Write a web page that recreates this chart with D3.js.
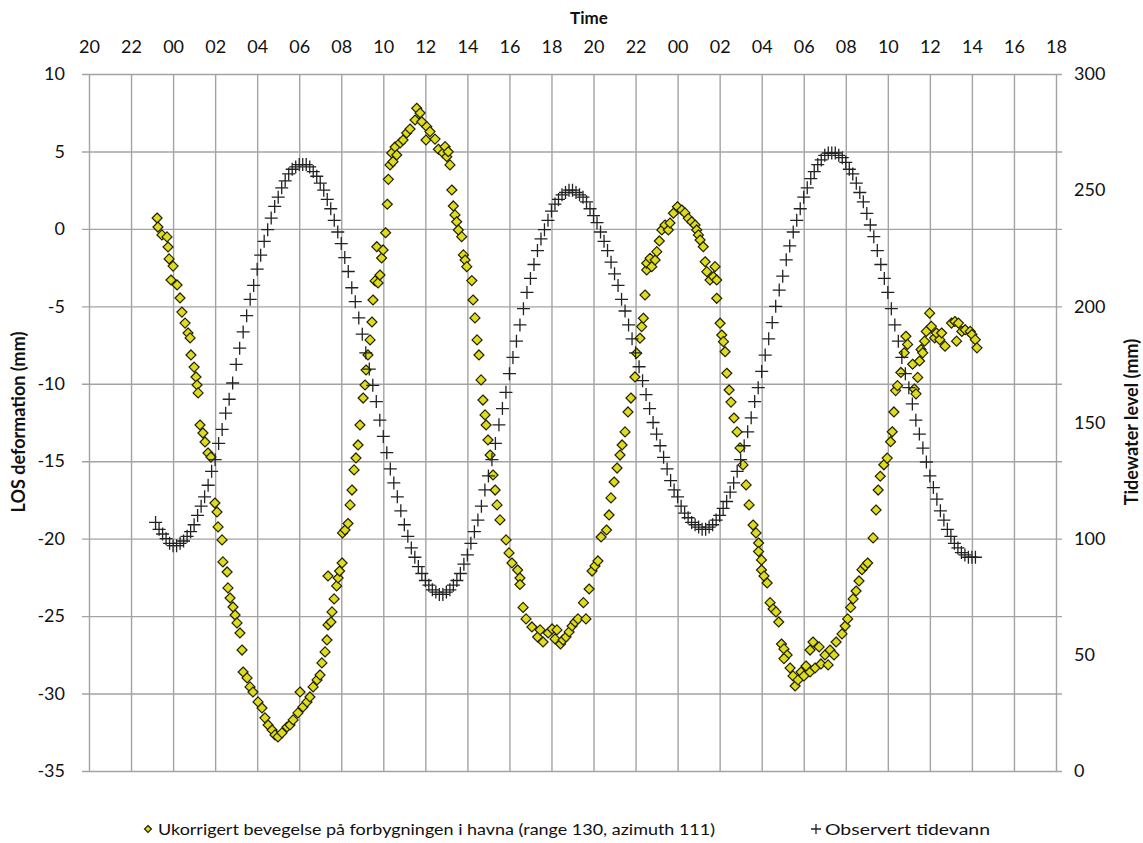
<!DOCTYPE html>
<html><head><meta charset="utf-8">
<script src="https://cdn.jsdelivr.net/npm/d3@7"></script>
<style>
html,body{margin:0;padding:0;background:#fff;}
svg{display:block;font-family:Lato,"Open Sans",sans-serif;}
</style></head><body>
<svg id="chart" width="1143" height="843"></svg>
<script>
// ---------- DATA ----------
// time axis: hours counted from 20:00 on the first day
const timeTickHours = [0,2,4,6,8,10,12,14,16,18,20,22,24,26,28,30,32,34,36,38,40,42,44,46];
const timeTickLabels = ["20","22","00","02","04","06","08","10","12","14","16","18","20","22","00","02","04","06","08","10","12","14","16","18"];
const losTicks = [10,5,0,-5,-10,-15,-20,-25,-30,-35];
const tideTicks = [300,250,200,150,100,50,0];

// observed tide (mm), one reading every 10 minutes starting 23:10 (hour 3 + 10 min)
const tideStartHour = 3 + 10/60;
const tideStepHours = 10/60;
const tideValues = [
 107,104,102,100,98,97,
 97,98,99,101,103,106,110,114,118,123,129,134,141,147,154,160,167,175,182,189,196,203,209,216,222,228,233,238,243,247,251,254,257,259,260,261,261,
 261,260,258,256,253,250,246,242,237,232,227,221,215,208,202,195,188,180,173,166,159,151,144,137,130,124,118,112,106,101,96,92,88,85,82,80,78,77,76,
 76,77,78,80,82,85,89,93,98,103,108,114,121,127,134,141,149,156,163,171,178,185,192,199,206,212,218,224,229,233,237,241,244,246,248,249,250,
 250,249,248,247,245,242,239,236,232,228,224,219,214,209,203,198,192,186,180,174,168,162,156,150,145,140,135,130,125,121,118,114,111,109,107,106,105,104,
 104,105,106,108,110,113,116,120,124,129,134,140,146,152,159,165,172,179,186,193,200,207,213,220,226,232,237,242,247,251,255,258,261,263,265,266,266,
 266,265,264,262,259,257,253,249,245,240,235,230,224,218,212,206,199,192,185,178,171,165,158,151,145,139,133,127,122,117,112,108,104,101,98,96,94,93,92,92,92
];

// uncorrected LOS movement: [hour since 20:00 day 1, mm]
const losPoints = [
 [3.24,0.70],[3.28,0.12],[3.47,-0.39],[3.71,-0.52],[3.76,-1.17],[3.81,-1.94],[3.90,-3.30],[4.00,-2.40],[4.19,-3.62],[4.33,-4.46],[4.42,-5.37],[4.57,-6.08],[4.71,-6.72],[4.81,-7.04],[4.85,-8.14],[5.00,-8.92],[5.09,-9.56],[5.14,-10.08],[5.19,-10.59],[5.28,-12.66],[5.42,-13.18],[5.52,-13.76],[5.66,-14.47],[5.80,-14.73],[5.99,-17.70],[6.09,-18.28],[6.14,-19.24],[6.33,-20.08],[6.37,-21.50],[6.57,-22.15],[6.61,-23.18],[6.71,-23.83],[6.85,-24.41],[6.95,-24.93],[7.04,-25.44],[7.18,-26.09],[7.28,-27.19],[7.33,-28.61],[7.52,-28.99],[7.66,-29.57],[7.80,-29.90],[8.04,-30.54],[8.23,-30.93],[8.37,-31.57],[8.52,-32.03],[8.71,-32.35],[8.85,-32.67],[8.99,-32.80],[9.18,-32.54],[9.42,-32.16],[9.56,-32.03],[9.71,-31.70],[9.94,-31.25],[10.04,-29.90],[10.18,-30.86],[10.37,-30.54],[10.51,-30.22],[10.66,-29.57],[10.85,-29.12],[10.99,-28.80],[11.08,-28.02],[11.23,-27.31],[11.32,-26.54],[11.37,-25.57],
 [11.51,-25.38],[11.56,-24.73],[11.66,-23.89],[11.37,-22.41],[11.78,-23.05],[11.85,-22.54],[11.92,-22.09],[12.04,-21.57],[12.06,-19.63],[12.18,-19.44],[12.32,-19.02],[12.42,-17.82],[12.51,-16.86],[12.61,-15.56],[12.70,-14.79],[12.80,-13.95],[12.89,-12.66],[13.04,-10.92],[13.13,-10.08],[13.18,-9.11],[13.27,-8.14],[13.37,-7.17],[13.46,-6.01],[13.51,-4.59],[13.61,-3.36],[13.69,-1.15],[13.75,-3.49],[13.84,-2.98],[13.92,-1.88],[13.99,-1.36],[14.11,-0.25],[14.19,1.59],[14.24,3.20],[14.32,4.13],[14.40,4.90],[14.46,4.34],[14.56,5.29],[14.64,4.77],[14.80,5.55],[14.94,5.74],[15.11,6.19],[15.27,6.45],[15.51,7.03],[15.59,7.79],[15.75,7.48],[15.83,6.92],
 [16.07,6.60],[16.03,5.74],[16.22,6.28],[16.46,5.80],[16.62,5.14],[16.84,4.90],[16.94,5.31],[17.02,4.66],[17.09,4.98],[17.17,4.13],[17.26,2.51],[17.33,1.48],[17.41,0.90],[17.49,0.46],[17.57,-0.07],[17.73,-0.50],[17.81,-1.68],[17.89,-2.01],[17.97,-2.44],[18.21,-3.34],[18.27,-4.59],[18.36,-5.75],[18.46,-7.17],[18.55,-8.14],[18.65,-9.75],[18.74,-11.05],[18.84,-12.01],[18.89,-12.66],[18.98,-13.63],[19.08,-14.60],[19.22,-15.89],[19.32,-16.86],[19.41,-17.82],[19.55,-18.79],[19.84,-20.08],[19.98,-20.92],[20.12,-21.57],[20.39,-22.02],[20.50,-22.54],[20.50,-22.96],[20.65,-24.44],[20.79,-25.18],[21.07,-25.70],[21.34,-26.35],[21.46,-25.89],[21.60,-26.67],[21.84,-26.09],[22.03,-25.83],[22.17,-26.47],[22.26,-25.89],[22.43,-26.80],[22.55,-26.54],[22.69,-26.35],[22.84,-26.02],[22.98,-25.64],[23.12,-25.38],[23.26,-25.18],[23.52,-24.13],[23.64,-25.18],[23.79,-23.25],[23.93,-22.09],[24.07,-21.76],[24.21,-21.44],[24.36,-19.89],[24.62,-19.44],
 [24.74,-18.47],[24.83,-17.37],[24.98,-16.34],[25.12,-15.44],[25.26,-14.60],[25.36,-13.95],[25.50,-13.11],[25.64,-11.82],[25.78,-10.92],[25.97,-9.56],[26.05,-8.03],[26.21,-7.06],[26.29,-6.31],[26.37,-5.77],[26.45,-4.27],[26.53,-2.65],[26.53,-2.22],[26.69,-1.90],[26.77,-2.44],[26.93,-2.01],[27.01,-1.47],[27.13,-0.78],[27.25,-0.07],[27.40,0.25],[27.56,-0.07],[27.64,0.38],[27.80,1.01],[27.99,1.43],
 [28.20,1.22],[28.35,1.03],[28.51,0.68],[28.67,0.46],[28.83,0.25],[28.91,-0.07],[28.99,-0.39],[29.07,-0.72],[29.22,-1.15],[29.31,-2.12],[29.39,-2.76],[29.54,-3.30],[29.70,-3.09],[29.78,-2.44],[29.86,-3.30],[29.86,-4.48],[30.02,-6.09],[30.10,-6.85],[30.18,-7.28],[30.26,-7.93],[30.34,-9.32],[30.45,-10.40],[30.54,-11.18],[30.68,-12.21],[30.83,-13.11],[30.97,-14.14],[31.11,-15.24],[31.26,-16.53],[31.40,-17.82],[31.59,-19.12],[31.73,-19.63],[31.85,-20.28],[31.85,-20.83],[31.99,-21.37],[31.99,-22.02],[32.11,-22.41],[32.26,-22.86],[32.40,-24.13],[32.54,-24.54],[32.68,-24.73],[32.81,-25.38],[32.94,-26.80],[33.06,-27.12],[33.21,-27.51],[33.06,-27.74],[33.35,-28.35],[33.49,-28.86],[33.59,-29.51],[33.73,-29.12],[33.87,-28.61],[34.01,-28.86],[34.11,-28.22],[34.30,-27.19],[34.30,-28.61],[34.44,-26.67],[34.54,-28.35],[34.73,-26.99],[34.82,-28.09],[35.01,-27.51],[35.16,-28.15],[35.25,-27.19],[35.44,-27.51],[35.54,-26.67],
 [35.82,-26.15],[35.97,-25.64],[36.09,-25.18],[36.23,-24.44],[36.35,-23.89],[36.49,-23.38],[36.63,-22.73],[36.77,-22.00],[36.92,-21.76],[37.04,-21.57],[37.30,-19.95],[37.44,-18.15],[37.54,-16.86],[37.64,-15.97],[37.81,-15.23],[37.97,-14.80],[38.13,-13.74],[38.21,-13.10],[38.29,-11.82],[38.37,-10.44],[38.46,-10.12],[38.62,-9.27],[38.78,-8.00],[38.86,-6.93],[38.94,-7.46],[39.18,-8.74],[39.26,-10.34],[39.34,-10.65],[39.42,-9.59],[39.51,-8.53],[39.58,-7.79],[39.66,-8.00],[39.75,-7.25],[39.83,-6.62],[39.99,-5.44],[40.07,-6.29],[40.23,-7.04],[40.31,-6.72],[40.47,-7.15],[40.56,-6.72],[40.72,-7.57],[41.03,-6.08],[41.19,-5.98],[41.27,-7.25],[41.36,-6.08],[41.52,-6.62],[41.68,-6.51],[41.92,-6.62],[42.00,-6.82],[42.16,-7.15],[42.24,-7.68]
];

const seriesNames = ["Ukorrigert bevegelse på forbygningen i havna (range 130, azimuth 111)", "Observert tidevann"];
const titles = {time:"Time", left:"LOS deformation (mm)", right:"Tidewater level (mm)"};

// ---------- CHART ----------
const svg = d3.select("#chart");
const plot = {left:89, right:1056, top:74, bottom:771};
const x = d3.scaleLinear().domain([0,46]).range([plot.left, plot.right]);
const yL = d3.scaleLinear().domain([-35,10]).range([plot.bottom, plot.top]);
const yR = d3.scaleLinear().domain([0,300]).range([plot.bottom, plot.top]);
const gridColor = "#a3a3a3";
const plainNum = d => String(d);   // hyphen-minus like the original

// vertical gridlines
const gx = svg.append("g").attr("transform",`translate(0,${plot.bottom})`)
  .call(d3.axisBottom(x).tickValues(timeTickHours).tickSize(-(plot.bottom-plot.top)).tickFormat(""));
gx.select(".domain").remove();
gx.selectAll("line").attr("stroke",gridColor).attr("stroke-width",1.4);

// horizontal gridlines (extend slightly outside the plot)
const gy = svg.append("g").attr("transform",`translate(${plot.left-7},0)`)
  .call(d3.axisLeft(yL).tickValues(losTicks).tickSize(-(plot.right-plot.left+13)).tickFormat(""));
gy.select(".domain").remove();
gy.selectAll("line").attr("stroke",gridColor).attr("stroke-width",1.4);

// tick labels
const fontTick = 18;
const topAxis = svg.append("g").attr("transform",`translate(0,${plot.top})`)
  .call(d3.axisTop(x).tickValues(timeTickHours).tickSize(0).tickPadding(21).tickFormat((d,i)=>timeTickLabels[i]));
const leftAxis = svg.append("g").attr("transform",`translate(${plot.left},0)`)
  .call(d3.axisLeft(yL).tickValues(losTicks).tickSize(0).tickPadding(24).tickFormat(plainNum));
const rightAxis = svg.append("g").attr("transform",`translate(${plot.right},0)`)
  .call(d3.axisRight(yR).tickValues(tideTicks).tickSize(0).tickPadding(18).tickFormat(plainNum));
[topAxis,leftAxis,rightAxis].forEach(a=>{
  a.select(".domain").remove();
  a.selectAll("text").attr("font-family","Lato,'Open Sans',sans-serif").attr("font-size",fontTick).attr("fill","#111");
});

// titles
svg.append("text").attr("x",589).attr("y",24).attr("text-anchor","middle")
  .attr("font-weight","bold").attr("font-size",17).attr("fill","#111").text(titles.time);
svg.append("text").attr("transform","translate(25,422) rotate(-90)").attr("text-anchor","middle")
  .attr("font-weight","bold").attr("font-size",18).attr("fill","#111").text(titles.left);
svg.append("text").attr("transform","translate(1138,422) rotate(-90)").attr("text-anchor","middle")
  .attr("font-weight","bold").attr("font-size",18).attr("fill","#111").text(titles.right);

// diamond + cross symbols
const diamond = r => `M0,${-r}L${r},0L0,${r}L${-r},0Z`;
const cross = r => `M${-r},0H${r}M0,${-r}V${r}`;
const diamondFill = "#dedc1c", diamondStroke = "#222200", crossColor = "#222";

svg.append("g").selectAll("path").data(losPoints).join("path")
  .attr("d", diamond(5))
  .attr("transform", d=>`translate(${x(d[0])},${yL(d[1])})`)
  .attr("fill", diamondFill).attr("stroke", diamondStroke).attr("stroke-width",1.2);

svg.append("g").selectAll("path").data(tideValues).join("path")
  .attr("d", cross(6.5))
  .attr("transform", (d,i)=>`translate(${x(tideStartHour + i*tideStepHours)},${yR(d)})`)
  .attr("stroke", crossColor).attr("stroke-width",1.3).attr("fill","none");

// legend
const lg = svg.append("g").attr("font-size",16).attr("fill","#111");
lg.append("path").attr("d",diamond(3.5)).attr("transform","translate(148,829)")
  .attr("fill",diamondFill).attr("stroke",diamondStroke).attr("stroke-width",1.2);
lg.append("text").attr("x",158).attr("y",835).attr("textLength",557).attr("lengthAdjust","spacingAndGlyphs").text(seriesNames[0]);
lg.append("path").attr("d",cross(5)).attr("transform","translate(816,829)")
  .attr("stroke",crossColor).attr("stroke-width",1.3);
lg.append("text").attr("x",825).attr("y",835).attr("textLength",165).attr("lengthAdjust","spacingAndGlyphs").text(seriesNames[1]);
</script>
</body></html>
